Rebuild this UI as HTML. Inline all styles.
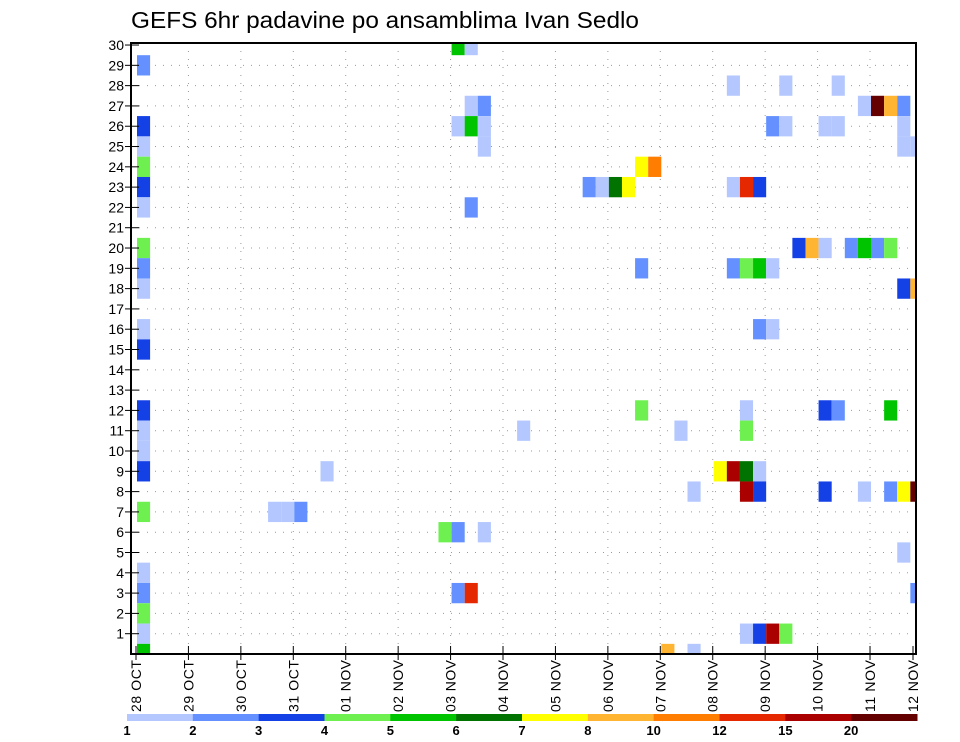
<!DOCTYPE html>
<html><head><meta charset="utf-8"><style>body{margin:0;background:#fff}svg{display:block}</style></head>
<body>
<svg id="chart" width="960" height="742" xmlns="http://www.w3.org/2000/svg" font-family="Liberation Sans, sans-serif"></svg>
<script>
const dateLabels = ["28 OCT","29 OCT","30 OCT","31 OCT","01 NOV","02 NOV","03 NOV","04 NOV","05 NOV","06 NOV","07 NOV","08 NOV","09 NOV","10 NOV","11 NOV","12 NOV"];
const memberTicks = [1,2,3,4,5,6,7,8,9,10,11,12,13,14,15,16,17,18,19,20,21,22,23,24,25,26,27,28,29,30];
const levelLabels = ["1","2","3","4","5","6","7","8","10","12","15","20"];
const levelColors = ["#b4c8ff","#6491ff","#1441e6","#6ef050","#00c400","#007300","#ffff00","#ffb432","#ff7d00","#e62800","#aa0000","#640000"];
// cells: 6h step index, ensemble member, colour band index
const cellStep = [
 0,0,0,0,0,0,0,0,0,0,0,0,0,0,0,0,0,0,0,0,0,
 24,25,25,26,24,25,26,26,25,34,35,36,37,38,39,
 45,49,53,55,56,57,58,48,49,52,53,58,58,59,45,46,47,
 50,51,52,54,55,56,57,
 45,46,47,48,38,
 58,59,47,48,
 52,53,57,46,38,
 46,41,29,
 44,45,46,47,14,
 42,46,47,52,55,57,58,59,
 10,11,12,
 23,24,26,
 58,
 59,24,25,
 46,47,48,49,
 40,42];
const cellMember = [
 29,26,25,24,23,22,20,19,18,16,15,12,11,10,9,7,4,3,2,1,0,
 30,30,27,27,26,26,26,25,22,23,23,23,23,24,24,
 28,28,28,27,27,27,27,26,26,26,26,26,25,25,23,23,23,
 20,20,20,20,20,20,20,
 19,19,19,19,19,
 18,18,16,16,
 12,12,12,12,12,
 11,11,11,
 9,9,9,9,9,
 8,8,8,8,8,8,8,8,
 7,7,7,
 6,6,6,
 5,
 3,3,3,
 1,1,1,1,
 0,0];
const cellBand = [
 1,2,0,3,2,0,3,1,0,0,2,2,0,0,2,3,0,1,3,0,4,
 4,0,0,1,0,4,0,0,1,1,0,5,6,6,8,
 0,0,0,0,11,7,1,1,0,0,0,0,0,0,0,9,2,
 2,7,0,1,4,1,3,
 1,3,4,0,1,
 2,7,1,0,
 2,1,4,0,3,
 3,0,0,
 6,10,5,0,0,
 0,10,2,2,0,1,6,11,
 0,0,1,
 3,1,0,
 0,
 1,1,9,
 0,2,10,3,
 7,0];
const NS="http://www.w3.org/2000/svg";
const svg=document.getElementById('chart');
const L=131,R=916,T=43,B=654,day=52.43,x28=136,stepW=day/4,x0=137;
const yMax=30.1;
function ys(v){return B-(v/yMax)*(B-T);}
function xd(d){return x28+d*day;}
function xs(i){return x0+i*stepW;}
function mk(tag,attrs,parent){const e=document.createElementNS(NS,tag);for(const k in attrs)e.setAttribute(k,attrs[k]);(parent||svg).appendChild(e);return e;}
const t=mk('text',{x:131,y:28,'font-size':23,fill:'#000',textLength:508,lengthAdjust:'spacingAndGlyphs'});


t.textContent="GEFS 6hr padavine po ansamblima Ivan Sedlo";
const grid=mk('g',{stroke:'#999','stroke-width':1,'stroke-dasharray':'1,7'});


memberTicks.forEach(m=>{if(m<30)mk('line',{x1:L,x2:R,y1:ys(m),y2:ys(m)},grid);});
dateLabels.forEach((d,i)=>{if(i>0&&i<15)mk('line',{x1:xd(i),x2:xd(i),y1:T,y2:B},grid);});
const clip=mk('clipPath',{id:'pc'});mk('rect',{x:L,y:T,width:R-L,height:B-T},clip);
const cells=mk('g',{'clip-path':'url(#pc)'});


for(let k=0;k<cellStep.length;k++){
 const r=mk('rect',{x:xs(cellStep[k]),width:stepW,y:ys(cellMember[k]+0.5),height:ys(0)-ys(1),fill:levelColors[cellBand[k]]},cells);
 
 
}
const ax=mk('rect',{x:L,y:T,width:R-L,height:B-T,fill:'none',stroke:'#000','stroke-width':2});


const yt=mk('g',{});


memberTicks.forEach(m=>{
 mk('line',{x1:L-6,x2:L+8,y1:ys(m),y2:ys(m),stroke:'#000','stroke-width':1},yt);
 const tx=mk('text',{x:L-7,y:ys(m)+5,'font-size':14,'text-anchor':'end'},yt);
 
 
 tx.textContent=m;
});
const xt=mk('g',{});


dateLabels.forEach((d,i)=>{
 const x=i<15?xd(i):R-3;
 mk('line',{x1:x,x2:x,y1:B-8,y2:B+6,stroke:'#000','stroke-width':1},xt);
 const tx=mk('text',{x:0,y:0,'font-size':14,'text-anchor':'end',transform:`translate(${x+5},${B+6}) rotate(-90)`,'textLength':52,'lengthAdjust':'spacing'},xt);
 
 
 tx.textContent=d.split(' ')[0]+'  '+d.split(' ')[1];
});
const lg=mk('g',{});


const lw=(917-127)/12;
levelColors.forEach((c,i)=>{
 const r=mk('rect',{x:127+i*lw,y:714,width:lw+0.5,height:7,fill:c},lg);
 
 
 const tx=mk('text',{x:127+i*lw,y:735,'font-size':13,'font-weight':'bold','text-anchor':'middle'},lg);
 
 
 tx.textContent=levelLabels[i];
});
</script>
</body></html>
